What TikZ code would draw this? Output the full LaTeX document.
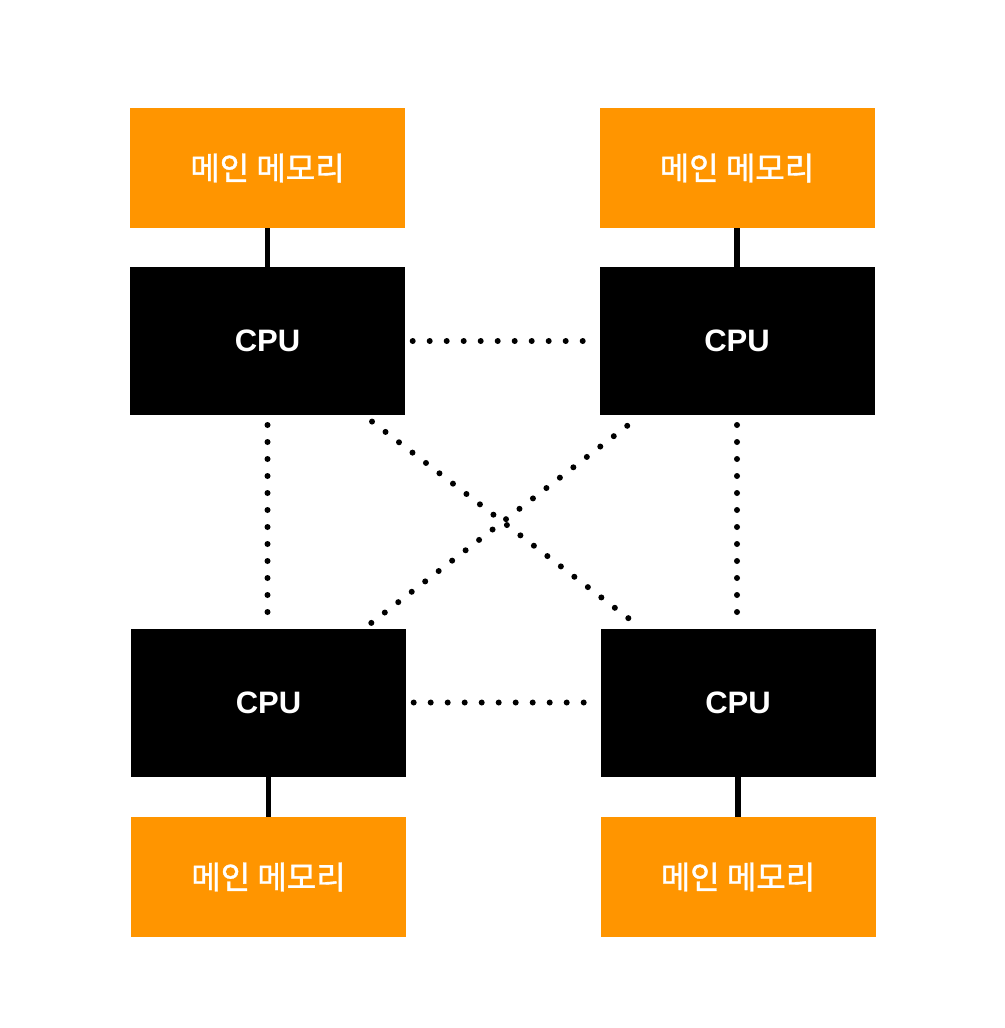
\documentclass[tikz,border=0pt]{standalone}
\usepackage{fontspec}
\newfontfamily\krfont{Noto Sans CJK KR}[FakeBold=1.2]
\newfontfamily\cpufont{Liberation Sans}
\definecolor{memorange}{HTML}{FF9500}
\begin{document}
\begin{tikzpicture}[x=1pt,y=-1pt,
  membox/.style={fill=memorange, minimum width=275pt, minimum height=120pt, inner sep=0pt, outer sep=0pt,
    text=white, font=\krfont\fontsize{32}{38}\selectfont},
  cpubox/.style={fill=black, minimum width=275pt, minimum height=148pt, inner sep=0pt, outer sep=0pt,
    text=white, font=\cpufont\bfseries\fontsize{31}{36}\selectfont},
  bus/.style={line width=5.3pt},
  dotlink/.style={line width=6pt, line cap=round, dash pattern=on 0pt off 17pt, shorten >=14pt}
]
\useasboundingbox (0,0) rectangle (1004,1028);
\node[membox] (memTL) at (267.5,168) {메인 메모리};
\node[membox] (memTR) at (737,168) {메인 메모리};
\node[cpubox] (cpuTL) at (267.5,341) {CPU};
\node[cpubox] (cpuTR) at (737,341) {CPU};
\node[cpubox] (cpuBL) at (268.5,702.5) {CPU};
\node[cpubox] (cpuBR) at (738,702.5) {CPU};
\node[membox] (memBL) at (268.5,877) {메인 메모리};
\node[membox] (memBR) at (738,877) {메인 메모리};

\draw[bus] (memTL) -- (cpuTL);
\draw[bus] (memTR) -- (cpuTR);
\draw[bus] (cpuBL) -- (memBL);
\draw[bus] (cpuBR) -- (memBR);

\draw[dotlink, shorten <=7.7pt] (cpuTL) -- (cpuTR);
\draw[dotlink, shorten <=7.7pt] (cpuBL) -- (cpuBR);
\draw[dotlink, shorten <=10pt] (cpuTL.south) -- (cpuTL.south |- cpuBL.north);
\draw[dotlink, shorten <=10pt] (cpuTR.south) -- (cpuTR.south |- cpuBR.north);
\draw[dotlink, shorten <=10.8pt] (cpuTL) -- (cpuBR);
\draw[dotlink, shorten <=9.2pt] (cpuBL) -- (cpuTR);
\end{tikzpicture}
\end{document}
